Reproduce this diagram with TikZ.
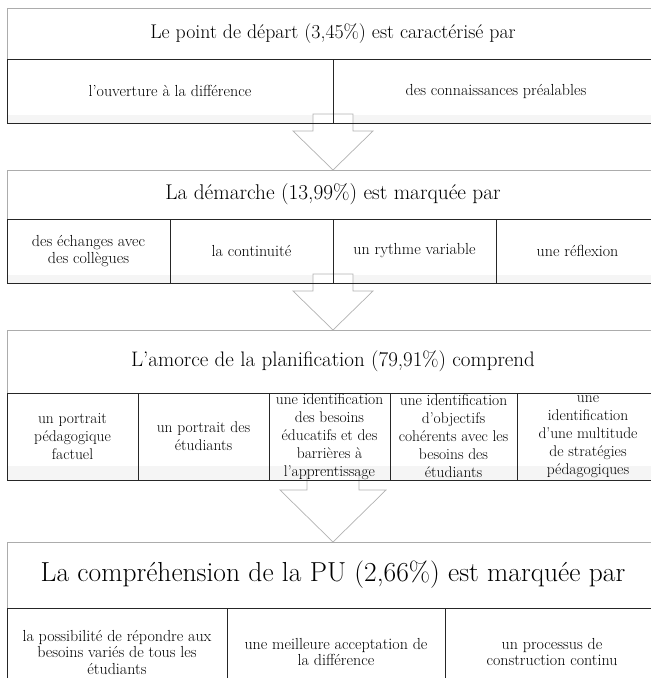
\documentclass[tikz,border=0pt]{standalone}
\usetikzlibrary{positioning,backgrounds}

\begin{document}
\begin{tikzpicture}[x=1pt,y=-1pt,
		head/.style = {draw=gray!65, line width=0.7pt, minimum width=652pt, inner sep=0pt, outer sep=0pt, anchor=north west},
		cell/.style = {draw=black!85, line width=0.9pt, inner xsep=0.5pt, inner ysep=1pt, outer sep=0pt, align=center, font=\fontsize{16}{17}\selectfont},
		tall cell/.style = {cell, inner ysep=0pt, minimum height=87pt, font=\fontsize{15.5}{18}\selectfont},
		low cell/.style = {cell, minimum height=88pt, font=\fontsize{16}{16.5}\selectfont},
		band/.style = {fill=gray!8},
		big arrow/.style = {draw=gray!60, fill=white, line width=0.7pt, line join=miter}]
		
		\useasboundingbox (0,0) rectangle (651,678);
		
		% point de depart
		\node[head, minimum height=51pt, font=\fontsize{19.8}{22}\selectfont] (h1) at (7,8) {Le point de départ (3,45\%) est caractérisé par};
		\node[cell, anchor=north west, minimum width=326pt, minimum height=64pt] (a1) at (7,59) {l’ouverture à la différence};
		\node[cell, minimum width=326pt, minimum height=64pt, right=0pt of a1] (a2) {des connaissances préalables};
		
		% demarche
		\node[head, minimum height=49pt, font=\fontsize{21.3}{24}\selectfont] (h2) at (7,170) {La démarche (13,99\%) est marquée par};
		\node[cell, anchor=north west, minimum width=163pt, minimum height=64pt] (b1) at (7,219) {des échanges avec\\des collègues};
		\node[cell, minimum width=163pt, minimum height=64pt, right=0pt of b1] (b2) {la continuité};
		\node[cell, minimum width=163pt, minimum height=64pt, right=0pt of b2] (b3) {un rythme variable};
		\node[cell, minimum width=163pt, minimum height=64pt, right=0pt of b3] (b4) {une réflexion};
		
		% planification
		\node[head, minimum height=63pt, font=\fontsize{21}{24}\selectfont] (h3) at (7,330) {L’amorce de la planification (79,91\%) comprend};
		\node[tall cell, anchor=north west, minimum width=131pt] (c1) at (7,393) {un portrait\\pédagogique\\factuel};
		\node[tall cell, minimum width=131pt, right=0pt of c1] (c2) {un portrait des\\étudiants};
		\node[tall cell, minimum width=121pt, right=0pt of c2] (c3) {une identification\\des besoins\\éducatifs et des\\barrières à\\l’apprentissage};
		\node[tall cell, minimum width=127pt, right=0pt of c3] (c4) {une identification\\d’objectifs\\cohérents avec les\\besoins des\\étudiants};
		\node[tall cell, minimum width=142pt, right=0pt of c4] (c5) {une\\identification\\d’une multitude\\de stratégies\\pédagogiques};
		
		% comprehension de la PU
		\node[head, minimum height=66pt, font=\fontsize{27.5}{31}\selectfont] (h4) at (7,542) {La compréhension de la PU (2,66\%) est marquée par};
		\node[low cell, anchor=north west, minimum width=220pt] (d1) at (7,608) {la possibilité de répondre aux\\besoins variés de tous les\\étudiants};
		\node[low cell, minimum width=218pt, right=0pt of d1] (d2) {une meilleure acceptation de\\la différence};
		\node[low cell, minimum width=214pt, right=0pt of d2] (d3) {un processus de\\construction continu};
		
		\begin{scope}[on background layer]
		\fill[band] (a1.south west) ++(0,-8) rectangle (a2.south east);
		\fill[band] (b1.south west) ++(0,-8) rectangle (b4.south east);
		\fill[band] (c1.south west) ++(0,-14) rectangle (c5.south east);
		\draw[big arrow] (h2.north) -- ++(-40,-39) -- ++(20,0) -- ++(0,-17) -- ++(40,0) -- ++(0,17) -- ++(20,0) -- cycle;
		\draw[big arrow] (h3.north) -- ++(-40,-39) -- ++(20,0) -- ++(0,-17) -- ++(40,0) -- ++(0,17) -- ++(20,0) -- cycle;
		\draw[big arrow] (h4.north) -- ++(-53,-52) -- ++(27,0) -- ++(0,-20) -- ++(52,0) -- ++(0,20) -- ++(27,0) -- cycle;
		\end{scope}
		
\end{tikzpicture}
\end{document}
